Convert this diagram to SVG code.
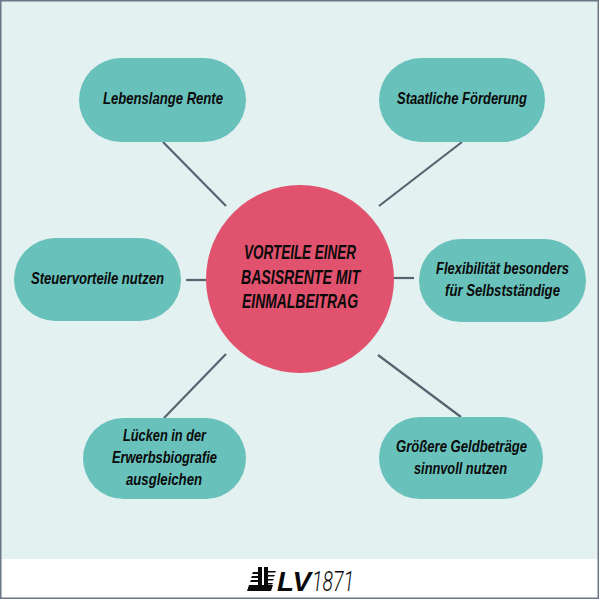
<svg xmlns="http://www.w3.org/2000/svg" width="600" height="600" viewBox="0 0 600 600">
<style>
.n{fill:#68c1ba}
.t{font-family:"Liberation Sans",sans-serif;font-weight:700;font-style:italic;font-size:17px;fill:#0a0a0a}
.h{font-size:20px}
.c{stroke:#5a6270;stroke-width:2.200;fill:none}
.k{fill:#0a0a0a}
</style>
<rect x="0" y="0" width="600" height="600" fill="#fff"/>
<rect x="1" y="1" width="597" height="558" fill="#e3f1f0"/>
<rect x="0.750" y="0.750" width="597.500" height="597.500" fill="none" stroke="#6a7685" stroke-width="1.500"/>
<g id="connectors">
<path class="c" d="M163 142L226 206"/>
<path class="c" d="M462 142L379 206"/>
<path class="c" d="M186 280L206 280"/>
<path class="c" d="M394 278L414 278"/>
<path class="c" d="M226 354L164 418"/>
<path class="c" d="M378 355L461 417"/>
</g>
<g id="center"><circle cx="300" cy="279" r="94" fill="#e1526e"/>
<text class="t h" x="244" y="259" textLength="112" lengthAdjust="spacingAndGlyphs">VORTEILE EINER</text>
<text class="t h" x="241" y="283.500" textLength="119" lengthAdjust="spacingAndGlyphs">BASISRENTE MIT</text>
<text class="t h" x="242" y="308" textLength="116" lengthAdjust="spacingAndGlyphs">EINMALBEITRAG</text></g>
<g id="n1"><rect class="n" x="79" y="58" width="167" height="84" rx="42"/><text class="t" x="103" y="104" textLength="120" lengthAdjust="spacingAndGlyphs">Lebenslange Rente</text></g>
<g id="n2"><rect class="n" x="379" y="58" width="166" height="84" rx="42"/><text class="t" x="397" y="104" textLength="130" lengthAdjust="spacingAndGlyphs">Staatliche Förderung</text></g>
<g id="n3"><rect class="n" x="14" y="238" width="167" height="83" rx="41.500"/><text class="t" x="31" y="283.500" textLength="133" lengthAdjust="spacingAndGlyphs">Steuervorteile nutzen</text></g>
<g id="n4"><rect class="n" x="419" y="239" width="167" height="83" rx="41.500"/><text class="t" x="436" y="274" textLength="133" lengthAdjust="spacingAndGlyphs">Flexibilität besonders</text><text class="t" x="445" y="296" textLength="115" lengthAdjust="spacingAndGlyphs">für Selbstständige</text></g>
<g id="n5"><rect class="n" x="83" y="418" width="163" height="81" rx="40.500"/><text class="t" x="123" y="441" textLength="83" lengthAdjust="spacingAndGlyphs">Lücken in der</text><text class="t" x="112" y="462.500" textLength="105" lengthAdjust="spacingAndGlyphs">Erwerbsbiografie</text><text class="t" x="126" y="484.500" textLength="76" lengthAdjust="spacingAndGlyphs">ausgleichen</text></g>
<g id="n6"><rect class="n" x="379" y="417" width="164" height="82" rx="41"/><text class="t" x="396" y="452" textLength="131" lengthAdjust="spacingAndGlyphs">Größere Geldbeträge</text><text class="t" x="414" y="474" textLength="93" lengthAdjust="spacingAndGlyphs">sinnvoll nutzen</text></g>
<g id="logo">
<rect class="k" x="258" y="567" width="4" height="20"/>
<rect class="k" x="264" y="567" width="4" height="20"/>
<path class="k" d="M249 585h24l-2 6h-24zM253 572h5v2h-6zM252 576h6v2h-7zM251 580h7v2h-8zM268 571h8l-1 1.600h-7zM268 575h7l-1 1.600h-6zM268 579h6l-1 1.600h-5zM268 583h5l-1 1.600h-4z"/>
<text x="277" y="591" style="font-family:'Liberation Sans',sans-serif;font-weight:700;font-style:italic;font-size:27px" fill="#0a0a0a" textLength="34" lengthAdjust="spacingAndGlyphs">LV</text>
<text x="312" y="591" style="font-family:Roboto,'Liberation Sans',sans-serif;font-weight:300;font-style:italic;font-size:28px" fill="#0a0a0a" textLength="42" lengthAdjust="spacingAndGlyphs">1871</text>
</g>
</svg>
